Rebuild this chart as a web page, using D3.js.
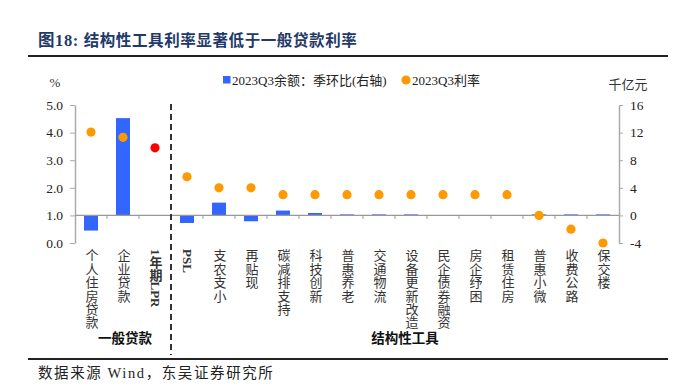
<!DOCTYPE html>
<html><head><meta charset="utf-8">
<script src="https://cdn.jsdelivr.net/npm/d3@7"></script>
<style>
html,body{margin:0;padding:0;background:#fff;}
svg{display:block;}
</style></head>
<body><svg id="c" width="678" height="391"></svg>
<script>
const categories = ["个人住房贷款","企业贷款","1年期LPR","PSL","支农支小","再贴现","碳减排支持","科技创新","普惠养老","交通物流","设备更新改造","民企债券融资","房企纾困","租赁住房","普惠小微","收费公路","保交楼"];
// 2023Q3 balance QoQ change (right axis, 千亿元); null = no bar
const balanceChange = [-2.2, 14.1, null, -1.1, 1.85, -0.85, 0.7, 0.35, 0.15, 0.15, 0.15, null, null, null, 0.15, 0.15, 0.15];
// 2023Q3 rate (left axis, %)
const rates = [4.02, 3.83, 3.45, 2.40, 2.0, 2.0, 1.75, 1.75, 1.75, 1.75, 1.75, 1.75, 1.75, 1.75, 1.0, 0.5, 0.0];
const highlight = [false,false,true,false,false,false,false,false,false,false,false,false,false,false,false,false,false];
const leftTicks = [0,1,2,3,4,5];
const rightTicks = [-4,0,4,8,12,16];
const groups = [{name:"一般贷款", cx:125},{name:"结构性工具", cx:405}];

const serif = "'Liberation Serif','Noto Sans CJK SC',serif";
const cjk = "'Noto Sans CJK SC','Liberation Serif',sans-serif";
const svg = d3.select("#c");
const L = 75, R = 619, T = 105, B = 243;

const x = d3.scaleBand().domain(categories).range([L, R]).paddingInner(0).paddingOuter(0);
const yL = d3.scaleLinear().domain([0,5]).range([B,T]);
const yR = d3.scaleLinear().domain([-4,16]).range([B,T]);

// Title
const title = svg.append("text").attr("x",38).attr("y",46).attr("fill","#1f3a68")
  .style("font-size","15.5px").style("font-weight","bold").style("letter-spacing","0.6px");
title.append("tspan").style("font-family",serif).style("font-size","16.5px").text("图18:  ");
title.append("tspan").style("font-family",cjk).text("结构性工具利率显著低于一般贷款利率");
svg.append("line").attr("x1",28).attr("x2",668).attr("y1",56).attr("y2",56).attr("stroke","#222").attr("stroke-width",2);

// Bars
const barW = 14;
svg.append("g").selectAll("rect").data(categories.map((c,i)=>({c,v:balanceChange[i]})).filter(d=>d.v!==null))
  .join("rect")
  .attr("x",d=>x(d.c)+x.bandwidth()/2-barW/2)
  .attr("width",barW)
  .attr("y",d=>Math.min(yR(d.v),yR(0)))
  .attr("height",d=>Math.abs(yR(d.v)-yR(0)))
  .attr("fill","#3366ff");

// Left axis
const gL = svg.append("g").attr("transform",`translate(${L},0)`)
  .call(d3.axisLeft(yL).tickValues(leftTicks).tickFormat(d3.format(".1f")).tickSize(5).tickSizeOuter(0).tickPadding(7));
// Right axis
const gR = svg.append("g").attr("transform",`translate(${R},0)`)
  .call(d3.axisRight(yR).tickValues(rightTicks).tickFormat(d=>d).tickSize(4).tickSizeOuter(0).tickPadding(7));
[gL,gR].forEach(g=>{
  g.select(".domain").attr("stroke","#aaa").attr("stroke-width",1.5);
  g.selectAll(".tick line").attr("stroke","#aaa");
  g.selectAll(".tick text").attr("fill","#222").style("font-family",serif).style("font-size","13.5px");
});

// X axis at right-axis zero
const y0 = yR(0);
const gX = svg.append("g");
gX.append("line").attr("x1",L).attr("x2",R).attr("y1",y0).attr("y2",y0).attr("stroke","#999").attr("stroke-width",1.2);
gX.selectAll("line.t").data(categories.slice(1)).join("line").attr("class","t")
  .attr("x1",d=>x(d)).attr("x2",d=>x(d)).attr("y1",y0).attr("y2",y0+3.5).attr("stroke","#999");

// Dots
svg.append("g").selectAll("circle").data(categories.map((c,i)=>({c,v:rates[i],h:highlight[i]})))
  .join("circle")
  .attr("cx",d=>x(d.c)+x.bandwidth()/2)
  .attr("cy",d=>yL(d.v))
  .attr("r",4.6)
  .attr("fill",d=>d.h?"#ff0000":"#ff9900");

// Dashed separator
svg.append("line").attr("x1",x(categories[3])).attr("x2",x(categories[3])).attr("y1",104).attr("y2",355)
  .attr("stroke","#333").attr("stroke-width",2).attr("stroke-dasharray","6,4");

// Category labels (vertical)
svg.append("g").selectAll("text").data(categories).join("text")
  .attr("x",d=>x(d)+x.bandwidth()/2)
  .attr("y",249)
  .attr("writing-mode","vertical-rl")
  .attr("fill","#333")
  .style("font-family",serif)
  .style("font-weight",(d,i)=> (i===2||i===3)? "bold":"normal")
  .style("font-size","13px")
  .style("letter-spacing",(d,i)=> (i===2||i===3)? "0px":"0.4px")
  .text(d=>d);

// Group labels
svg.append("g").selectAll("text").data(groups).join("text")
  .attr("x",d=>d.cx)
  .attr("y",343)
  .attr("text-anchor","middle")
  .attr("fill","#111")
  .style("font-family",cjk).style("font-weight","bold").style("font-size","13.5px")
  .text(d=>d.name);

// Axis unit labels
svg.append("text").attr("x",55).attr("y",87).attr("text-anchor","middle").attr("fill","#333")
  .style("font-family",serif).style("font-size","13px").text("%");
svg.append("text").attr("x",628).attr("y",89).attr("text-anchor","middle").attr("fill","#333")
  .style("font-family",cjk).style("font-size","13px").text("千亿元");

// Legend
svg.append("rect").attr("x",223).attr("y",76).attr("width",7.5).attr("height",7.5).attr("fill","#3366ff");
svg.append("text").attr("x",232).attr("y",85).attr("fill","#222")
  .style("font-family",serif).style("font-size","13px").text("2023Q3余额：季环比(右轴)");
svg.append("circle").attr("cx",406).attr("cy",80).attr("r",4.6).attr("fill","#ff9900");
svg.append("text").attr("x",412).attr("y",85).attr("fill","#222")
  .style("font-family",serif).style("font-size","13px").text("2023Q3利率");

// Bottom line and source
svg.append("line").attr("x1",28).attr("x2",668).attr("y1",359).attr("y2",359).attr("stroke","#222").attr("stroke-width",2);
svg.append("text").attr("x",38).attr("y",378).attr("fill","#222")
  .style("font-family",serif).style("font-size","14.5px").style("letter-spacing","1.6px").text("数据来源 Wind，东吴证券研究所");
</script></body></html>
